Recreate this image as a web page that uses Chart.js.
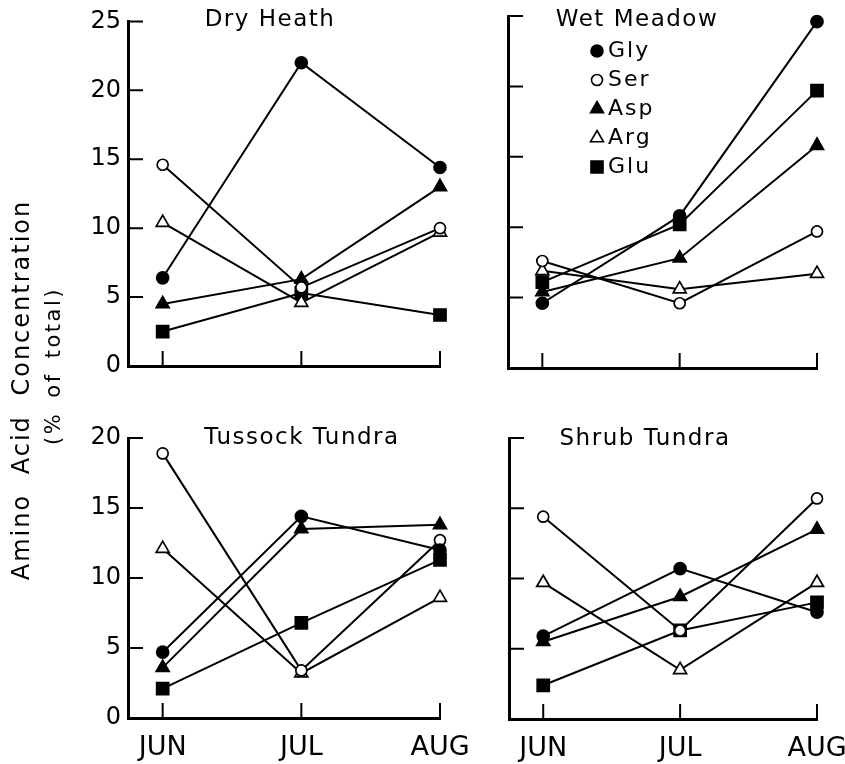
<!DOCTYPE html>
<html>
<head>
<meta charset="utf-8">
<script src="https://cdn.jsdelivr.net/npm/chart.js@4.4.0/dist/chart.umd.min.js"></script>
<style>
  body { margin: 0; background: #fff; }
  #wrap { position: relative; width: 845px; height: 764px; overflow: hidden; }
  canvas { position: absolute; left: 0; top: 0; }
  .ytitle {
    position: absolute;
    transform: translate(-50%, -50%) rotate(-90deg);
    white-space: nowrap;
    font-family: "DejaVu Sans", sans-serif;
    color: #000;
  }
</style>
</head>
<body>
<div id="wrap">
  <canvas id="c1" width="900" height="764"></canvas>
  <canvas id="c2" width="900" height="764"></canvas>
  <canvas id="c3" width="900" height="764"></canvas>
  <canvas id="c4" width="900" height="764"></canvas>
  <div class="ytitle" style="left:21px;top:390px;font-size:24px;letter-spacing:2px;word-spacing:10px">Amino Acid Concentration</div>
  <div class="ytitle" style="left:53px;top:366px;font-size:21px;letter-spacing:2.5px;word-spacing:5px">(% of total)</div>
</div>
<script>
  const months = ["JUN", "JUL", "AUG"];
  const acids = ["Gly", "Ser", "Asp", "Arg", "Glu"];

  // rows follow the acids order, columns follow months
  const dryHeath = [
    [6.4, 22.0, 14.4],
    [14.6, 5.7, 10.0],
    [4.5, 6.3, 13.0],
    [10.4, 4.6, 9.7],
    [2.5, 5.3, 3.7],
  ];
  const wetMeadow = [
    [4.6, 10.8, 24.6],
    [7.6, 4.6, 9.7],
    [5.4, 7.8, 15.8],
    [6.9, 5.6, 6.7],
    [6.1, 10.2, 19.7],
  ];
  const tussockTundra = [
    [4.7, 14.4, 12.0],
    [18.9, 3.4, 12.7],
    [3.6, 13.5, 13.8],
    [12.1, 3.2, 8.6],
    [2.1, 6.8, 11.3],
  ];
  const shrubTundra = [
    [5.9, 10.7, 7.6],
    [14.4, 6.3, 15.7],
    [5.5, 8.7, 13.5],
    [9.7, 3.5, 9.7],
    [2.4, 6.3, 8.3],
  ];

  const topTicks = [0, 5, 10, 15, 20, 25];
  const bottomTicks = [0, 5, 10, 15, 20];

  const markers = {
    Gly: { style: "circle", fill: "#000", radius: 6 },
    Ser: { style: "circle", fill: "#fff", radius: 5.5 },
    Asp: { style: "triangle", fill: "#000", radius: 7.5 },
    Arg: { style: "triangle", fill: "#fff", radius: 7.5 },
    Glu: { style: "rect", fill: "#000", radius: 8.5 },
  };

  const FONT = "DejaVu Sans";
  const CW = 900, CH = 764;
  const Y_W = 60, X_H = 50;

  const panels = [
    { id: "c1", title: "Dry Heath", values: dryHeath, ticks: topTicks, max: 25,
      area: { left: 128, top: 15, right: 440, bottom: 366 },
      yLabels: true, xLabels: false, titlePos: [270, 20] },
    { id: "c2", title: "Wet Meadow", values: wetMeadow, ticks: topTicks, max: 25,
      area: { left: 508, top: 16, right: 817, bottom: 368 },
      yLabels: false, xLabels: false, titlePos: [637, 20], legend: [597, 51, 29] },
    { id: "c3", title: "Tussock Tundra", values: tussockTundra, ticks: bottomTicks, max: 20,
      area: { left: 128, top: 438, right: 440, bottom: 718 },
      yLabels: true, xLabels: true, titlePos: [302, 438] },
    { id: "c4", title: "Shrub Tundra", values: shrubTundra, ticks: bottomTicks, max: 20,
      area: { left: 509, top: 438, right: 817, bottom: 719 },
      yLabels: false, xLabels: true, titlePos: [645, 439] },
  ];

  const drawMarker = (ctx, m, x, y) => {
    ctx.beginPath();
    if (m.style === "circle") {
      ctx.arc(x, y, m.radius, 0, Math.PI * 2);
    } else if (m.style === "triangle") {
      const r = m.radius;
      ctx.moveTo(x, y - r);
      ctx.lineTo(x + r * 0.866, y + r * 0.5);
      ctx.lineTo(x - r * 0.866, y + r * 0.5);
      ctx.closePath();
    } else {
      const s = m.radius * Math.SQRT1_2;
      ctx.rect(x - s, y - s, 2 * s, 2 * s);
    }
    ctx.fillStyle = m.fill;
    ctx.fill();
    ctx.stroke();
  };

  // inward tick marks, panel title and (for one panel) the legend
  const panelDecor = {
    id: "panelDecor",
    beforeDatasetsDraw(chart) {
      const { ctx, chartArea: a, scales: { x, y } } = chart;
      ctx.save();
      ctx.strokeStyle = "#000";
      ctx.lineWidth = 2;
      ctx.beginPath();
      y.ticks.forEach((t) => {
        const py = y.getPixelForValue(t.value);
        ctx.moveTo(a.left, py);
        ctx.lineTo(a.left + 15, py);
      });
      x.ticks.forEach((t) => {
        const px = x.getPixelForValue(t.value);
        ctx.moveTo(px, a.bottom);
        ctx.lineTo(px, a.bottom - 15);
      });
      ctx.stroke();
      ctx.restore();
    },
    afterDraw(chart, args, opts) {
      const { ctx } = chart;
      const p = opts.panel;
      ctx.save();
      ctx.fillStyle = "#000";
      ctx.font = `23px "${FONT}"`;
      ctx.letterSpacing = "1.5px";
      ctx.textAlign = "center";
      ctx.textBaseline = "middle";
      ctx.fillText(p.title, p.titlePos[0], p.titlePos[1]);
      if (p.legend) {
        const [lx, ly, step] = p.legend;
        ctx.font = `22px "${FONT}"`;
        ctx.letterSpacing = "2px";
        ctx.textAlign = "left";
        ctx.strokeStyle = "#000";
        ctx.lineWidth = 1.6;
        chart.data.datasets.forEach((ds, i) => {
          const yy = ly + i * step;
          drawMarker(ctx, markers[ds.label], lx, yy);
          ctx.fillStyle = "#000";
          ctx.fillText(ds.label, lx + 11, yy);
        });
      }
      ctx.restore();
    },
  };

  panels.forEach((p) => {
    const datasets = acids.map((name, i) => ({
      label: name,
      data: p.values[i].map((v, j) => ({ x: j, y: v })),
      borderColor: "#000",
      borderWidth: 2,
      pointStyle: markers[name].style,
      pointRadius: markers[name].radius,
      pointBackgroundColor: markers[name].fill,
      pointBorderColor: "#000",
      pointBorderWidth: 1.7,
      tension: 0,
      clip: false,
    }));

    new Chart(document.getElementById(p.id), {
      type: "line",
      data: { datasets },
      plugins: [panelDecor],
      options: {
        responsive: false,
        animation: false,
        events: [],
        layout: {
          padding: {
            left: p.area.left - Y_W,
            top: p.area.top,
            right: CW - p.area.right,
            bottom: CH - p.area.bottom - X_H,
          },
        },
        plugins: {
          legend: { display: false },
          tooltip: { enabled: false },
          panelDecor: { panel: p },
        },
        scales: {
          x: {
            type: "linear",
            min: -0.25,
            max: 2,
            afterBuildTicks: (s) => {
              s.ticks = months.map((m, i) => ({ value: i }));
            },
            afterFit: (s) => {
              s.height = X_H;
            },
            ticks: {
              display: p.xLabels,
              callback: (v) => months[v],
              color: "#000",
              font: { family: FONT, size: 27 },
              padding: 14,
              maxRotation: 0,
              autoSkip: false,
            },
            grid: { drawOnChartArea: false, drawTicks: false },
            border: { width: 3, color: "#000" },
          },
          y: {
            min: 0,
            max: p.max,
            afterBuildTicks: (s) => {
              s.ticks = p.ticks.map((v) => ({ value: v }));
            },
            afterFit: (s) => {
              s.width = Y_W;
            },
            ticks: {
              display: p.yLabels,
              color: "#000",
              font: { family: FONT, size: 24 },
              padding: 7,
            },
            grid: { drawOnChartArea: false, drawTicks: false },
            border: { width: 3, color: "#000" },
          },
        },
      },
    });
  });
</script>
</body>
</html>
